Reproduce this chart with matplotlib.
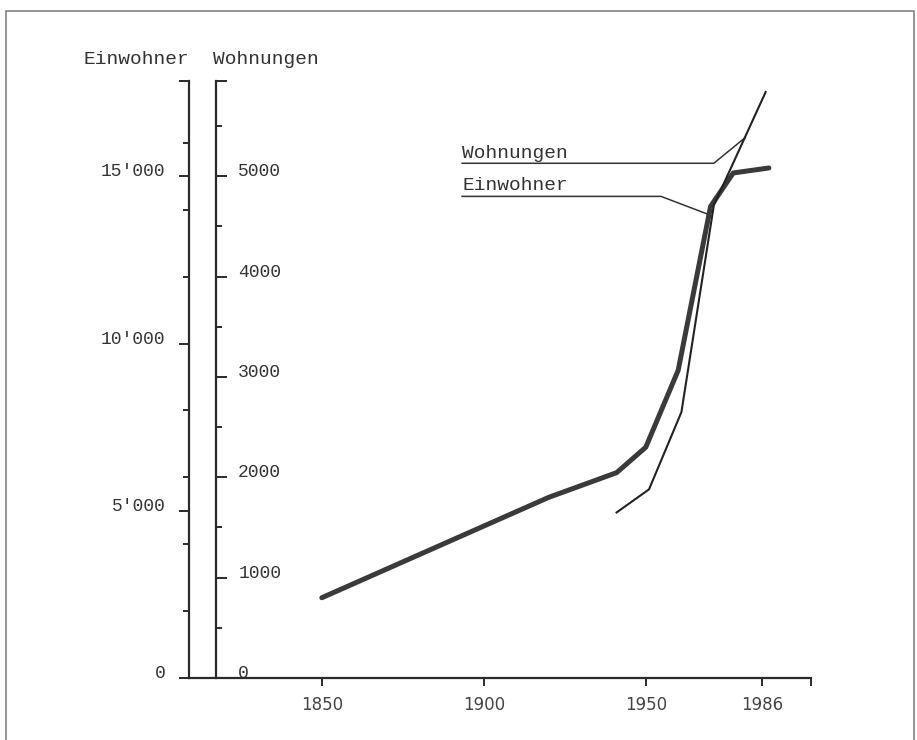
import matplotlib
matplotlib.use('Agg')
import matplotlib.pyplot as plt
from matplotlib.patches import Rectangle
import numpy as np

# values
years_einw = [1850, 1920, 1941, 1950, 1960, 1970, 1977, 1988]
einwohner = [2400, 5400, 6140, 6900, 9200, 14100, 15100, 15250]
years_wohn = [1941, 1951, 1961, 1971, 1987]
wohnungen = [1650, 1880, 2650, 4710, 5840]

x_ticks = [1850, 1900, 1950, 1986]
einw_ticks = [0, 5000, 10000, 15000]
einw_labels = ["0", "5'000", "10'000", "15'000"]
einw_minor = [2000, 4000, 6000, 8000, 12000, 14000, 16000]
wohn_ticks = [0, 1000, 2000, 3000, 4000, 5000]
wohn_labels = ["0", "1000", "2000", "3000", "4000", "5000"]
wohn_minor = [500, 1500, 2500, 3500, 4500, 5500]

plt.rcParams['font.family'] = ['Liberation Mono', 'DejaVu Sans Mono']
ink = '#2a2a2a'
y_top = 17850
x_lim = (1809, 2001)

fig = plt.figure(figsize=(9.17, 7.4), dpi=100)
# scanned page frame
fig.patches.append(Rectangle((6 / 917, -0.05), 908 / 917, 1.035, transform=fig.transFigure,
                             fill=False, lw=1.1, ec='#777'))

ax = fig.add_axes([189 / 917, 1 - 678 / 740, 622 / 917, 597 / 740])
ax.set_xlim(*x_lim)
ax.set_ylim(0, y_top)
for s in ['top', 'right']:
    ax.spines[s].set_visible(False)
for s in ['left', 'bottom']:
    ax.spines[s].set_linewidth(1.6)
    ax.spines[s].set_color(ink)

ax.set_xticks(x_ticks + [x_lim[1]])
ax.set_xticklabels([str(t) for t in x_ticks] + [''], fontfamily='DejaVu Sans', fontsize=12)
ax.tick_params(axis='x', length=6, width=1.4, pad=7, color=ink, labelcolor='#444')

ax.set_yticks(einw_ticks + [y_top])
ax.set_yticklabels(einw_labels + [''])
ax.set_yticks(einw_minor, minor=True)
ax.tick_params(axis='y', which='major', length=7, width=1.4, pad=10, labelsize=13,
               color=ink, labelcolor='#333')
ax.tick_params(axis='y', which='minor', length=4, width=1.4, color=ink)
plt.setp(ax.get_yticklabels(), va='baseline')

# second scale (Wohnungen), 1:3 to Einwohner
ax2 = ax.twinx()
ax2.set_ylim(0, y_top / 3)
ax2.spines['right'].set_position(('axes', 27 / 622))
ax2.spines['right'].set_linewidth(1.6)
ax2.spines['right'].set_color(ink)
for s in ['top', 'left', 'bottom']:
    ax2.spines[s].set_visible(False)
ax2.set_yticks(wohn_ticks + [y_top / 3])
ax2.set_yticklabels(wohn_labels + [''])
ax2.set_yticks(wohn_minor, minor=True)
ax2.tick_params(axis='y', which='major', length=8, width=1.4, pad=8, labelsize=13,
                color=ink, labelcolor='#333')
ax2.tick_params(axis='y', which='minor', length=4.5, width=1.4, color=ink)
plt.setp(ax2.get_yticklabels(), va='baseline')

# data lines
ax.plot(years_einw, einwohner, color='#3a3a3a', lw=3.6, solid_capstyle='round',
        solid_joinstyle='round', zorder=3)
ax2.plot(years_wohn, wohnungen, color='#222', lw=1.5, zorder=3)

# leader lines for the two labels
w_target = (1980.5, np.interp(1980.5, years_wohn, wohnungen) * 3)
ax.plot([1893.3, 1971, w_target[0]], [15390, 15390, w_target[1]], color='#333', lw=1.1)
ax.text(1893.3, 15560, 'Wohnungen', fontsize=14, color='#333', va='baseline')

e_target = (1969.5, np.interp(1969.5, years_einw, einwohner))
ax.plot([1893.3, 1954.7, e_target[0]], [14400, 14400, e_target[1]], color='#333', lw=1.1)
ax.text(1893.3, 14580, 'Einwohner', fontsize=14, color='#333', va='baseline')

# axis headers
fig.text(189 / 917, 1 - 59 / 740, 'Einwohner', ha='right', va='center', fontsize=14, color='#333')
fig.text(213 / 917, 1 - 59 / 740, 'Wohnungen', ha='left', va='center', fontsize=14, color='#333')

fig.savefig('out.png', dpi=100)
